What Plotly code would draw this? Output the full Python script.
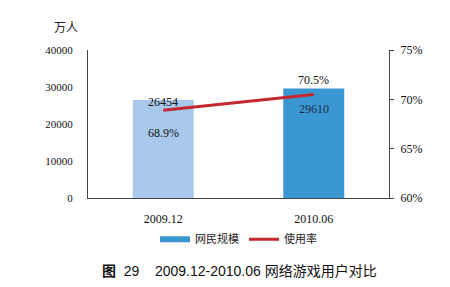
import plotly.graph_objects as go

categories = ["2009.12", "2010.06"]
users = [26454, 29610]
rate = [68.9, 70.5]
user_labels = ["26454", "29610"]
rate_labels = ["68.9%", "70.5%"]
bar_colors = ["#a8c9ec", "#3b97d1"]
left_ticks = [0, 10000, 20000, 30000, 40000]
right_ticks = [60, 65, 70, 75]

serif = "Liberation Serif"
cjk = "Noto Sans CJK SC"

xpos = list(range(len(categories)))

fig = go.Figure()
fig.add_trace(go.Bar(x=xpos, y=users, marker=dict(color=bar_colors, line=dict(width=0)),
                     width=0.405, showlegend=False, yaxis="y"))
fig.add_trace(go.Scatter(x=[xpos[0]], y=[None], mode="lines", name="网民规模",
                         line=dict(color="#3b97d1", width=6), yaxis="y"))
fig.add_trace(go.Scatter(x=xpos, y=rate, mode="lines", name="使用率",
                         line=dict(color="#c3282e", width=3), yaxis="y2"))

ann = []
ann.append(dict(x=xpos[0], y=users[0], xref="x", yref="y", text=user_labels[0],
                showarrow=False, yshift=-2, font=dict(family=serif, size=12, color="#111")))
ann.append(dict(x=xpos[1], y=users[1], xref="x", yref="y", text=user_labels[1],
                showarrow=False, yshift=-21, font=dict(family=serif, size=12, color="#1a2a4a")))
ann.append(dict(x=xpos[0], y=rate[0], xref="x", yref="y2", text=rate_labels[0],
                showarrow=False, yshift=-23, font=dict(family=serif, size=12, color="#111")))
ann.append(dict(x=xpos[1], y=rate[1], xref="x", yref="y2", text=rate_labels[1],
                showarrow=False, yshift=14, font=dict(family=serif, size=12, color="#111")))
ann.append(dict(x=66, y=287 - 26, xref="paper", yref="paper", text="万人", showarrow=False,
                xanchor="center", yanchor="middle",
                font=dict(family=cjk, size=12, color="#222")))
ann.append(dict(x=100, y=287 - 271, xref="paper", yref="paper", xanchor="left", yanchor="middle",
                text="<b>图</b>  29    2009.12-2010.06 网络游戏用户对比", showarrow=False,
                font=dict(family="Liberation Sans, Noto Sans CJK SC", size=14, color="#111")))

W, H = 450, 287
ml, mr, mt, mb = 88, 61, 50, 89
pw, ph = W - ml - mr, H - mt - mb
for a in ann:
    if a["xref"] == "paper":
        a["x"] = (a["x"] - ml) / pw
        a["y"] = (a["y"] - mb) / ph

fig.update_layout(
    width=W, height=H,
    margin=dict(l=ml, r=mr, t=mt, b=mb, pad=0),
    paper_bgcolor="white", plot_bgcolor="white",
    font=dict(family=serif, size=11, color="#111"),
    xaxis=dict(range=[-0.5, len(categories) - 0.5], tickvals=xpos, ticktext=categories,
               showline=True, linecolor="#444", linewidth=1, ticks="", showgrid=False, zeroline=False,
               tickfont=dict(family=serif, size=12, color="#111"), ticklabelstandoff=10),
    yaxis=dict(range=[0, 40000], tickvals=left_ticks, tickformat="d", showline=True, linecolor="#444",
               linewidth=1, ticks="", showgrid=False, zeroline=False,
               tickfont=dict(family=serif, size=11, color="#111"), ticklabelstandoff=12),
    yaxis2=dict(range=[60, 75], tickvals=right_ticks, ticktext=[f"{v}%" for v in right_ticks],
                overlaying="y", side="right", showline=True, linecolor="#444", linewidth=1,
                ticks="outside", ticklen=4, tickcolor="#444", showgrid=False, zeroline=False,
                tickfont=dict(family=serif, size=12, color="#111"), ticklabelstandoff=4),
    legend=dict(orientation="h", x=0.5, xanchor="center", y=-0.18, yanchor="top",
                font=dict(family=cjk, size=11, color="#222"), itemwidth=30,
                bgcolor="rgba(0,0,0,0)"),
    annotations=ann,
    showlegend=True,
)

fig.write_html("out.html")
